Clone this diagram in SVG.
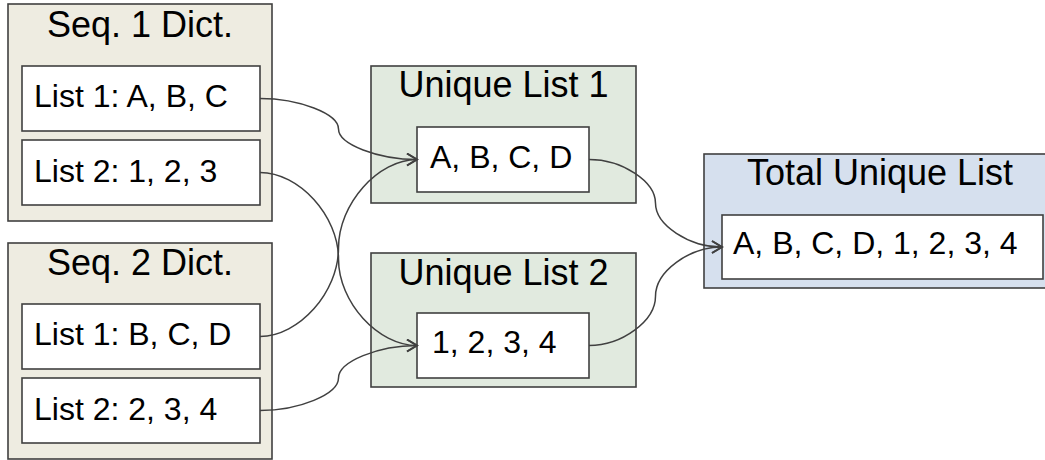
<svg xmlns="http://www.w3.org/2000/svg" width="1045" height="460" viewBox="0 0 1045 460">
  <style>
    .outer { stroke: #404040; stroke-width: 1.6; }
    .seq { fill: #EEECE1; }
    .uniq { fill: #E1EADF; }
    .total { fill: #D6E0EE; }
    .inner { fill: #FFFFFF; stroke: #404040; stroke-width: 1.6; }
    .title { font-family: "Liberation Sans", Arial, sans-serif; font-size: 36px; fill: #000; text-anchor: middle; }
    .item { font-family: "Liberation Sans", Arial, sans-serif; font-size: 32px; fill: #000; }
    .conn { fill: none; stroke: #404040; stroke-width: 1.5; }
  </style>
  <defs>
    <marker id="arrow" markerUnits="userSpaceOnUse" markerWidth="14" markerHeight="14" refX="11" refY="7" orient="auto">
      <path d="M1,1 L11,7 L1,13" fill="none" stroke="#404040" stroke-width="1.8"/>
    </marker>
  </defs>

  <!-- Sequence 1 dictionary -->
  <g id="seq1">
    <rect class="outer seq" x="8" y="4" width="264" height="217"/>
    <text class="title" x="140" y="37">Seq. 1 Dict.</text>
    <rect class="inner" x="22" y="66" width="238" height="65"/>
    <text class="item" x="34" y="107">List 1: A, B, C</text>
    <rect class="inner" x="22" y="140" width="238" height="65"/>
    <text class="item" x="34" y="182">List 2: 1, 2, 3</text>
  </g>

  <!-- Sequence 2 dictionary -->
  <g id="seq2">
    <rect class="outer seq" x="8" y="243" width="264" height="216"/>
    <text class="title" x="140" y="275">Seq. 2 Dict.</text>
    <rect class="inner" x="22" y="304" width="238" height="65"/>
    <text class="item" x="34" y="345">List 1: B, C, D</text>
    <rect class="inner" x="22" y="378" width="238" height="65"/>
    <text class="item" x="34" y="420">List 2: 2, 3, 4</text>
  </g>

  <!-- Unique list 1 -->
  <g id="unique1">
    <rect class="outer uniq" x="371" y="66" width="265" height="137"/>
    <text class="title" x="503.5" y="97">Unique List 1</text>
    <rect class="inner" x="417" y="127" width="172" height="65"/>
    <text class="item" x="430" y="168">A, B, C, D</text>
  </g>

  <!-- Unique list 2 -->
  <g id="unique2">
    <rect class="outer uniq" x="371" y="253" width="265" height="134"/>
    <text class="title" x="503.5" y="285">Unique List 2</text>
    <rect class="inner" x="417" y="313" width="172" height="65"/>
    <text class="item" x="432" y="353">1, 2, 3, 4</text>
  </g>

  <!-- Combined unique list -->
  <g id="total">
    <rect class="outer total" x="704" y="154" width="360" height="134"/>
    <text class="title" x="880" y="185">Total Unique List</text>
    <rect class="inner" x="722" y="215" width="321" height="64"/>
    <text class="item" x="733" y="254">A, B, C, D, 1, 2, 3, 4</text>
  </g>

  <!-- Curved connectors -->
  <g id="connectors">
    <path class="conn" marker-end="url(#arrow)" d="M260,98.5 C299,98.5 338.5,113.75 338.5,129 C338.5,144.25 378,159.5 417,159.5"/>
    <path class="conn" marker-end="url(#arrow)" d="M260,172.5 C299,172.5 338.5,215.75 338.5,259 C338.5,302.25 378,345.5 417,345.5"/>
    <path class="conn" marker-end="url(#arrow)" d="M260,336.5 C299,336.5 338.5,292.25 338.5,248 C338.5,203.75 378,159.5 417,159.5"/>
    <path class="conn" marker-end="url(#arrow)" d="M260,410.5 C299,410.5 338.5,394.25 338.5,378 C338.5,361.75 378,345.5 417,345.5"/>
    <path class="conn" marker-end="url(#arrow)" d="M589,159.5 C622,159.5 655.5,181.25 655.5,203.25 C655.5,225 689,247 722,247"/>
    <path class="conn" marker-end="url(#arrow)" d="M589,345.5 C622,345.5 655.5,321 655.5,296.25 C655.5,271.5 689,247 722,247"/>
  </g>
</svg>
